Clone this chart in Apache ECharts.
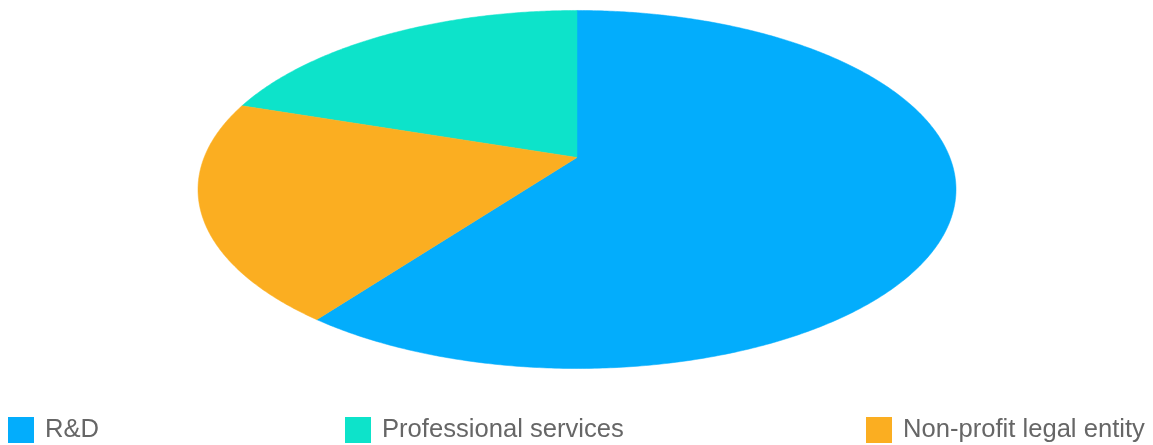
<!DOCTYPE html>
<html>
<head>
<meta charset="utf-8">
<script src="https://cdn.jsdelivr.net/npm/echarts@6/dist/echarts.min.js"></script>
<style>
html,body{margin:0;padding:0;background:#fff;}
#c{width:1153px;height:445px;}
</style>
</head>
<body>
<div id="c"></div>
<script>
const categories = ['R&D', 'Professional services', 'Non-profit legal entity'];
const values = [60.2, 19.9, 19.9];
const colors = ['#03adfc', '#0de3ca', '#fbae21'];
// clockwise order in which the slices sit around the pie (from 12 o'clock)
const sliceOrder = ['R&D', 'Non-profit legal entity', 'Professional services'];

const total = values.reduce((a, b) => a + b, 0);
const startOf = {};
let acc = 0;
sliceOrder.forEach(name => {
  const i = categories.indexOf(name);
  startOf[name] = acc / total;
  acc += values[i];
});

// perspective-projected pie geometry (layout)
const geo = { x0: 577, y0: 157.5, a: 372.9, b: 173.3, e: 0.1787 };
function proj(theta) {
  const u = 1 + geo.e * Math.cos(theta);
  return [geo.x0 + geo.a * Math.sin(theta) / u, geo.y0 - geo.b * Math.cos(theta) / u];
}

const chart = echarts.init(document.getElementById('c'));
const series = categories.map((name, i) => ({
  name: name,
  type: 'custom',
  coordinateSystem: 'none',
  itemStyle: { color: colors[i] },
  data: [[startOf[name], values[i] / total]],
  renderItem: function (params, api) {
    const s = api.value(0) * Math.PI * 2;
    const span = api.value(1) * Math.PI * 2;
    const n = Math.max(2, Math.ceil(span / (Math.PI / 360)));
    const pts = [[geo.x0, geo.y0]];
    for (let k = 0; k <= n; k++) pts.push(proj(s + span * k / n));
    return {
      type: 'polygon',
      shape: { points: pts },
      style: { fill: api.visual('color'), stroke: api.visual('color'), lineWidth: 0.5 }
    };
  }
}));

const legendPos = [8, 345, 866];
const legends = categories.map((name, i) => ({
  data: [name],
  left: legendPos[i],
  top: 415,
  padding: 0,
  icon: 'rect',
  itemWidth: 26,
  itemHeight: 26,
  selectedMode: false,
  textStyle: {
    fontFamily: 'Liberation Sans, Arial, sans-serif',
    fontSize: 25.6,
    color: '#666',
    padding: [4, 0, 0, 6],
    lineHeight: 26
  }
}));

chart.setOption({
  animation: false,
  legend: legends,
  series: series
});
</script>
</body>
</html>
